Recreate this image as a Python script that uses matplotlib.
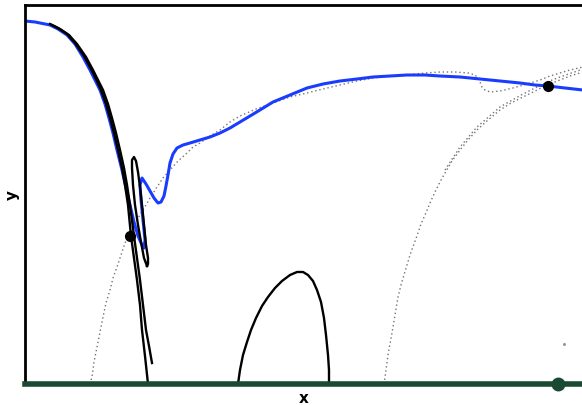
import matplotlib
matplotlib.use('Agg')
import matplotlib.pyplot as plt

# traced curves, arbitrary units (the original has no ticks)
blue_x = [0, 10, 20, 25, 33, 42, 50, 58, 65, 70, 75, 80, 84, 88, 92, 97, 101, 105, 109, 113,
          117, 119, 120, 118, 116, 115, 117, 121, 125, 129, 133, 136, 139, 141, 143, 145,
          148, 152, 158, 165, 175, 185, 195, 205, 215, 230, 248, 265, 282, 298, 315, 332,
          348, 365, 382, 400, 415, 435, 455, 475, 495, 510, 523, 540, 558]
blue_y = [363, 362, 360, 359, 355, 349, 340, 327, 314, 304, 294, 280, 266, 251, 234, 214,
          196, 179, 162, 148, 139, 136, 144, 164, 184, 199, 206, 200, 193, 186, 181, 182,
          188, 198, 209, 221, 230, 236, 239, 241, 244, 247, 251, 256, 262, 271, 282, 289,
          296, 300, 303, 305, 307, 308, 309, 309, 308, 307, 305, 303, 301, 299, 298, 296, 294]

black_a_x = [25, 33, 42, 50, 59, 66, 71, 76, 81, 85, 89, 93, 97, 100, 103, 106, 109, 112,
             115, 117, 120, 123]
black_a_y = [360, 356, 350, 341, 328, 315, 305, 294, 280, 266, 251, 234, 216, 199, 179,
             148, 126, 104, 79, 54, 28, 0]
black_b_x = [27, 35, 44, 52, 61, 68, 73, 78, 83, 87, 91, 95, 99, 102, 105, 109, 112, 115,
             118, 121, 124, 127]
black_b_y = [359, 355, 349, 340, 327, 314, 304, 294, 280, 266, 251, 234, 216, 199, 179,
             148, 126, 104, 79, 54, 38, 21]

loop_x = [122, 119, 116, 113, 110, 108, 107, 107, 109, 111, 113, 115, 117, 119, 121, 123,
          123, 122]
loop_y = [118, 126, 142, 159, 179, 199, 216, 224, 227, 223, 212, 197, 179, 159, 139, 126,
          120, 118]

arch_x = [213, 215, 218, 222, 226, 231, 237, 243, 250, 257, 265, 272, 278, 283, 288, 292,
          296, 299, 301, 303, 304, 304]
arch_y = [0, 14, 29, 42, 54, 66, 78, 87, 96, 103, 109, 112, 112, 109, 103, 94, 82, 66,
          49, 29, 14, 0]

dot_e_x = [65, 67, 69, 72, 75, 78, 81, 85, 88, 92, 96, 100, 104, 108, 113, 118, 125, 132,
           138, 145, 153, 162, 168, 175, 185, 195, 205, 215, 231, 248, 265, 282, 298, 315,
           332, 348, 365, 382, 400, 415, 430, 443, 450, 453, 455, 457, 460, 465, 475, 488,
           502, 515, 525, 535, 545, 558]
dot_e_y = [0, 7, 22, 37, 52, 67, 81, 94, 106, 117, 129, 141, 149, 157, 166, 174, 186, 197,
           206, 214, 223, 231, 237, 241, 248, 254, 262, 268, 275, 281, 287, 291, 295, 299,
           303, 306, 308, 309, 311, 312, 312, 311, 309, 306, 302, 297, 294, 292, 293, 296,
           300, 304, 308, 311, 314, 317]

dot_f_x = [359, 361, 363, 365, 367, 370, 373, 376, 379, 382, 385, 389, 393, 396, 400, 405,
           410, 415, 420, 427, 435, 443, 452, 463, 475, 486, 498, 510, 522, 535, 545, 558]
dot_f_y = [0, 14, 29, 40, 51, 69, 87, 99, 109, 119, 129, 140, 151, 160, 169, 181, 192, 202,
           211, 223, 234, 244, 254, 264, 274, 281, 287, 293, 299, 304, 308, 312]
dot_f2_x = [420, 435, 452, 475, 498, 522, 535, 558]
dot_f2_y = [214, 237, 257, 277, 290, 302, 307, 315]

pts_x = [105, 523]
pts_y = [148, 298]
stray_x = [539]
stray_y = [40]
base_pt_x = [533]
base_pt_y = [0]

blue = '#1a3cff'
green = '#1b4a33'
dots = (0, (1, 2))

fig = plt.figure(figsize=(5.82, 4.05), dpi=100)
ax = fig.add_axes([25 / 582, 21 / 405, 558 / 582, 379 / 405])

# gray dotted branches
for xs, ys in [(dot_e_x, dot_e_y), (dot_f_x, dot_f_y), (dot_f2_x, dot_f2_y)]:
    ax.plot(xs, ys, color='0.45', lw=1, ls=dots, zorder=1)
ax.plot(stray_x, stray_y, 'o', color='0.6', ms=1.2, zorder=1)

ax.plot(blue_x, blue_y, color=blue, lw=2.2, zorder=2)

for xs, ys in [(black_a_x, black_a_y), (black_b_x, black_b_y),
               (loop_x, loop_y), (arch_x, arch_y)]:
    ax.plot(xs, ys, color='black', lw=1.7, zorder=3, solid_joinstyle='round')

ax.plot(pts_x, pts_y, 'o', color='black', ms=7, zorder=5)

ax.axhline(0, color=green, lw=4, zorder=4, clip_on=False)
ax.plot(base_pt_x, base_pt_y, 'o', color=green, ms=9, zorder=6, clip_on=False)

ax.set_xlim(0, 558)
ax.set_ylim(0, 379)
ax.set_xticks([])
ax.set_yticks([])
ax.spines['left'].set_linewidth(2)
ax.spines['top'].set_linewidth(2)
ax.spines['right'].set_visible(False)
ax.spines['bottom'].set_visible(False)

ax.set_xlabel('x', fontsize=11, fontweight='bold', labelpad=5)
ax.set_ylabel('y', fontsize=11, fontweight='bold', labelpad=4)

fig.savefig('out.png', dpi=100)
